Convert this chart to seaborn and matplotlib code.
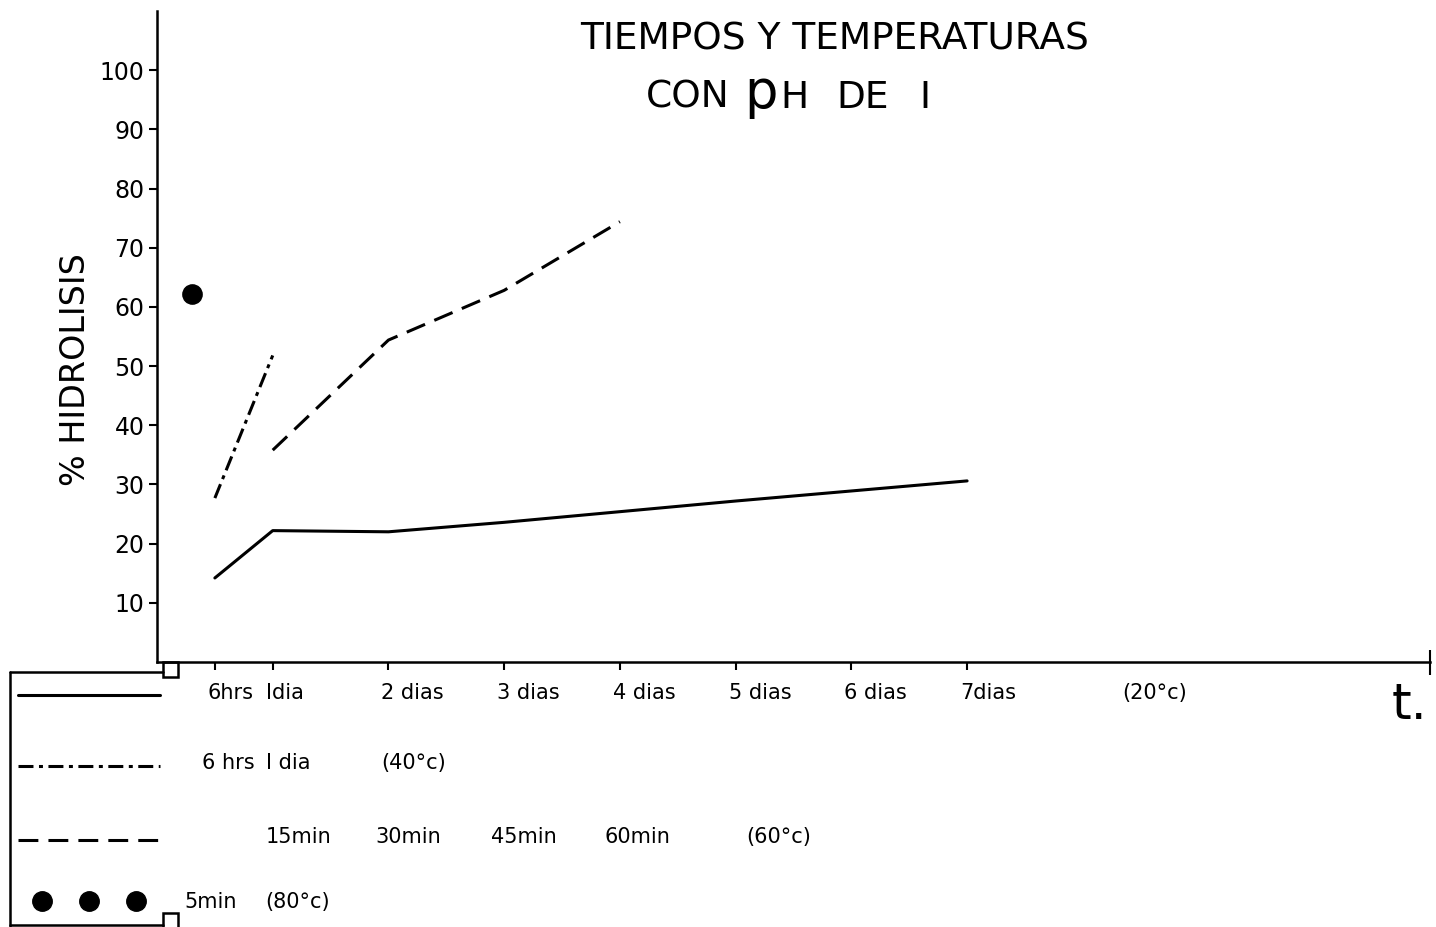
import numpy as np
import pandas as pd
import matplotlib.pyplot as plt
import seaborn as sns
from matplotlib.lines import Line2D
from matplotlib.patches import Rectangle
from matplotlib.transforms import ScaledTranslation

# positions on the shared time axis (1 unit = 1 dia of the 20 C series)
tick_pos = [0.5, 1, 2, 3, 4, 5, 6, 7]
tick_labels = ['6hrs', 'Idia', '2 dias', '3 dias', '4 dias', '5 dias', '6 dias', '7dias']

# 20 C : 6 hrs .. 7 dias
pos_20 = [0.5, 1, 2, 3, 4, 5, 6, 7]
hid_20 = [14.2, 22.2, 22.0, 23.6, 25.4, 27.2, 28.9, 30.6]
# 40 C : 6 hrs, 1 dia
pos_40 = [0.5, 1]
hid_40 = [27.7, 51.8]
# 60 C : 15, 30, 45, 60 min
pos_60 = [1, 2, 3, 4]
hid_60 = [35.8, 54.4, 62.8, 74.4]
# 80 C : 5 min
pos_80 = [0.3]
hid_80 = [62.2]

row2_labels = ['6 hrs', 'I dia', '(40°c)']
row2_pos = [0.45, 1, 2]
row3_labels = ['15min', '30min', '45min', '60min', '(60°c)']
row3_pos = [1, 1.95, 2.95, 3.93, 5.15]
row4_labels = ['5min', '(80°c)']
row4_pos = [0.3, 1]

lines = pd.concat([
    pd.DataFrame({'pos': pos_20, 'hid': hid_20, 'serie': '20'}),
    pd.DataFrame({'pos': pos_40, 'hid': hid_40, 'serie': '40'}),
    pd.DataFrame({'pos': pos_60, 'hid': hid_60, 'serie': '60'}),
])

W, H = 1436, 927
sns.set_style('ticks', rc={'axes.edgecolor': 'black', 'xtick.color': 'black',
                           'ytick.color': 'black', 'text.color': 'black',
                           'axes.labelcolor': 'black'})
plt.rcParams['font.family'] = ['DejaVu Sans']

fig = plt.figure(figsize=(W / 100, H / 100), dpi=100)
ax = fig.add_axes([157 / W, 1 - 662 / H, 1273 / W, 651 / H])

dash_dot = (4.9, 1.8, 1.3, 1.8)
dashed = (6.5, 3.3)
sns.lineplot(data=lines, x='pos', y='hid', style='serie',
             dashes={'20': '', '40': dash_dot, '60': dashed},
             color='black', linewidth=2.2, legend=False, ax=ax)
sns.scatterplot(x=pos_80, y=hid_80, s=190, color='black', edgecolor='black', ax=ax)

ax.set_xlim(0, 11)
ax.set_ylim(0, 110)
sns.despine(ax=ax)
for s in ['left', 'bottom']:
    ax.spines[s].set_linewidth(1.8)

ax.set_yticks(range(10, 101, 10))
ax.tick_params(axis='y', direction='out', length=6, width=1.5, pad=3, labelsize=17)
ax.set_xticks(tick_pos)
ax.set_xticklabels(tick_labels, ha='left', fontsize=15)
ax.tick_params(axis='x', direction='out', length=6, width=1.5, pad=9)
shift = ScaledTranslation(-7 / 100, 0, fig.dpi_scale_trans)
for lab in ax.get_xticklabels():
    lab.set_transform(lab.get_transform() + shift)
ax.set_xticks([11], minor=True)
ax.tick_params(axis='x', which='minor', direction='inout', length=18, width=1.5)

ax.set_xlabel('')
ax.set_ylabel('% HIDROLISIS', fontsize=24)
ax.yaxis.set_label_coords(-0.051, 0.4485)

# extra label rows below the axis
ax.text(8.34, -5.2, '(20°c)', fontsize=15, ha='left', va='center', clip_on=False)
for labs, ps, yv in [(row2_labels, row2_pos, -17.1), (row3_labels, row3_pos, -29.5),
                     (row4_labels, row4_pos, -40.6)]:
    for lab, p in zip(labs, ps):
        ax.text(p, yv, lab, fontsize=15, ha='left', va='center',
                clip_on=False, transform=ax.transData + shift)

# legend frame and samples (pixel coords -> figure fraction)
def fx(px):
    return px / W

def fy(py):
    return 1 - py / H

for xs, ys in [([10, 163], [672, 672]), ([10, 10], [672, 927]), ([10, 163], [925, 925])]:
    fig.add_artist(Line2D([fx(x) for x in xs], [fy(y) for y in ys], color='black', lw=1.8))
for y0 in [662, 913]:
    fig.add_artist(Rectangle((fx(163), fy(y0 + 15)), 15 / W, 15 / H, fill=False,
                             edgecolor='black', lw=1.8, transform=fig.transFigure))
fig.add_artist(Line2D([fx(18), fx(160)], [fy(695)] * 2, color='black', lw=2.2))
fig.add_artist(Line2D([fx(18), fx(160)], [fy(766)] * 2, color='black', lw=2.2,
                      dashes=dash_dot))
fig.add_artist(Line2D([fx(18), fx(160)], [fy(840)] * 2, color='black', lw=2.2,
                      dashes=dashed))
fig.add_artist(Line2D([fx(42), fx(89), fx(136)], [fy(901)] * 3, color='black', lw=0,
                      marker='o', markersize=14))

# titles
fig.text(fx(835), fy(40), 'TIEMPOS Y TEMPERATURAS', fontsize=27,
         ha='center', va='center')
for txt, px, fs in [('CON', 646, 27), ('p', 744, 38), ('H', 780, 27), ('DE', 836, 27), ('I', 919, 27)]:
    fig.text(fx(px), fy(108), txt, fontsize=fs, ha='left', va='baseline')
fig.text(fx(1392), fy(705), 't.', fontsize=36, ha='left', va='center')

fig.savefig('out.png', dpi=100, facecolor='white')
